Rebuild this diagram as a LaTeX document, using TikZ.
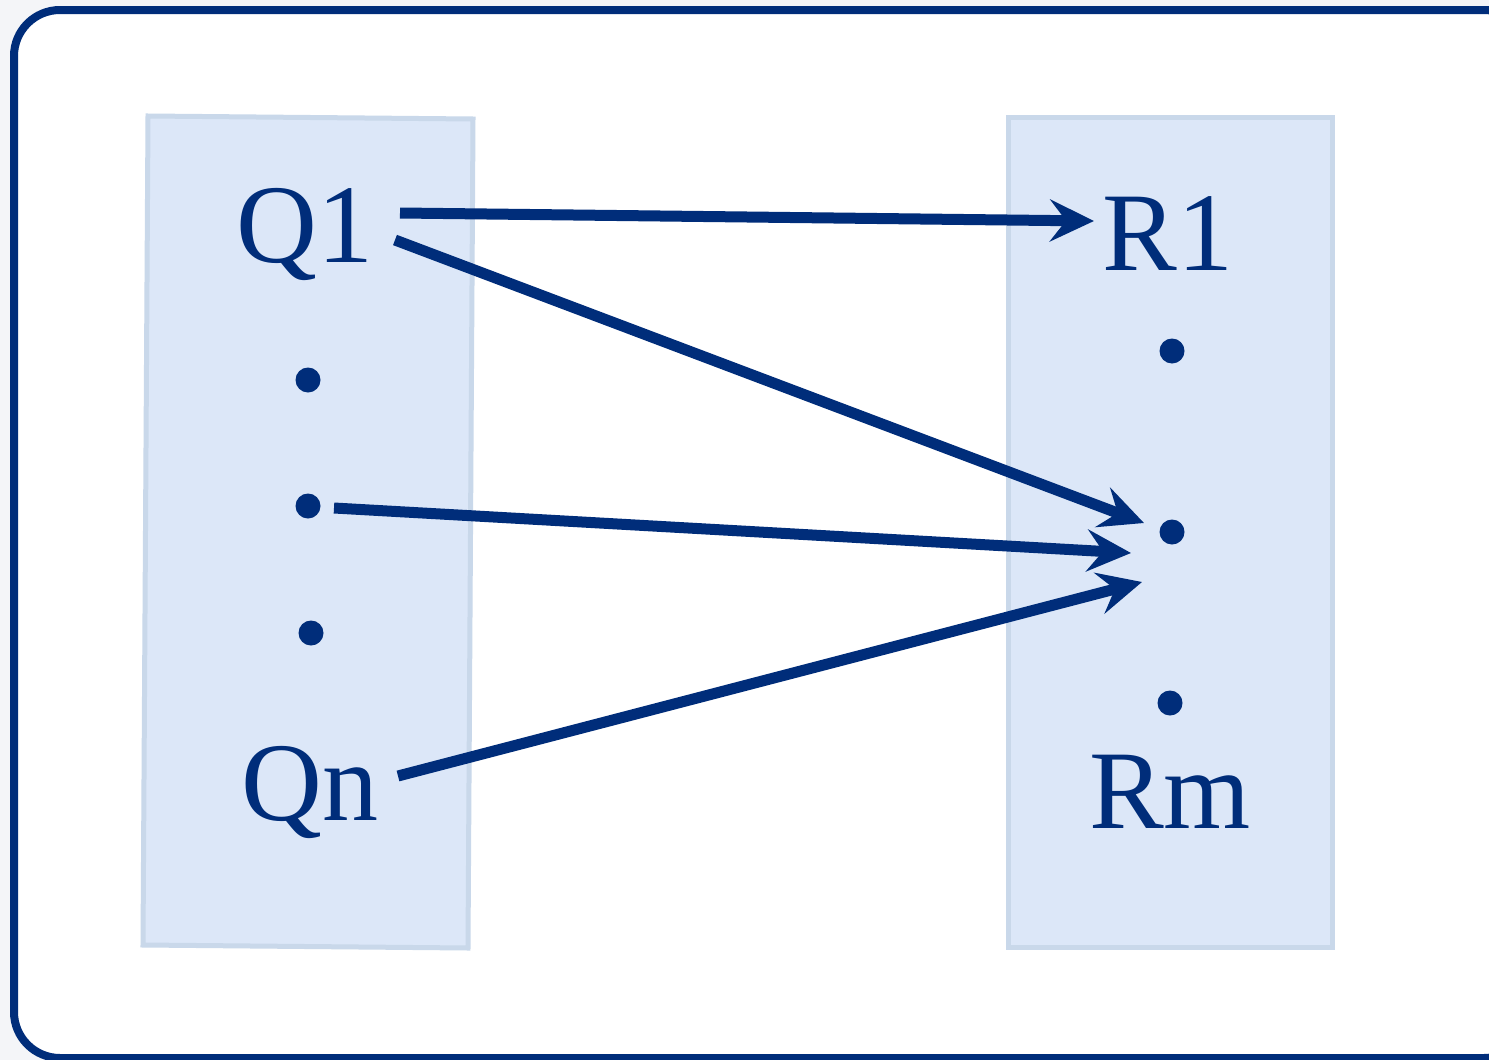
\documentclass[tikz,border=0pt]{standalone}
\usepackage{fontspec}
\setmainfont{Liberation Serif}
\usetikzlibrary{arrows.meta}
\definecolor{navy}{HTML}{002D7A}
\definecolor{panelfill}{HTML}{DCE7F8}
\definecolor{paneledge}{HTML}{C9D8EA}
\definecolor{pagebg}{HTML}{F4F5F8}
\begin{document}
\begin{tikzpicture}[x=1pt,y=-1pt,
  lbl/.style={text=navy,font=\fontsize{112}{114}\selectfont,inner sep=0pt},
  dotn/.style={circle,fill=navy,inner sep=0pt,minimum size=25pt},
  conn/.style={draw=navy,line width=11pt,-{Stealth[length=44pt,width=42pt,inset=16pt]}},
  panel/.style={fill=panelfill,draw=paneledge,line width=5pt}]
\clip (0,0) rectangle (1489,1060);
\fill[pagebg] (0,0) rectangle (1489,1060);
\draw[navy,line width=8pt,fill=white,rounded corners=46pt] (14,10) rectangle (1530,1058);
% panels
\draw[panel] (148,116) -- (473,119) -- (468,948) -- (143,945) -- cycle;
\draw[panel] (1008,117) -- (1332,117) -- (1332,947) -- (1008,947) -- cycle;
% labels
\node[lbl] (Q1) at (305,234) {Q1};
\node[lbl] (Qn) at (310,792) {Qn};
\node[lbl] (R1) at (1168,234) {R1};
\node[lbl] (Rm) at (1170,792) {Rm};
% dots
\node[dotn] (q2) at (308,380) {};
\node[dotn] (q3) at (308,506) {};
\node[dotn] (q4) at (311,633) {};
\node[dotn] (r2) at (1172,351) {};
\node[dotn] (r3) at (1172,532) {};
\node[dotn] (r4) at (1170,703) {};
% connector ends
\coordinate (a1s) at (400,213);
\coordinate (a1e) at (1094,221);
\coordinate (a2s) at (395,240);
\coordinate (a2e) at (1144,523);
\coordinate (a3s) at (334,508);
\coordinate (a3e) at (1131,553);
\coordinate (a4s) at (398,776);
\coordinate (a4e) at (1142,582);
\draw[conn] (a1s) -- (a1e);
\draw[conn] (a2s) -- (a2e);
\draw[conn] (a3s) -- (a3e);
\draw[conn] (a4s) -- (a4e);
\end{tikzpicture}
\end{document}
